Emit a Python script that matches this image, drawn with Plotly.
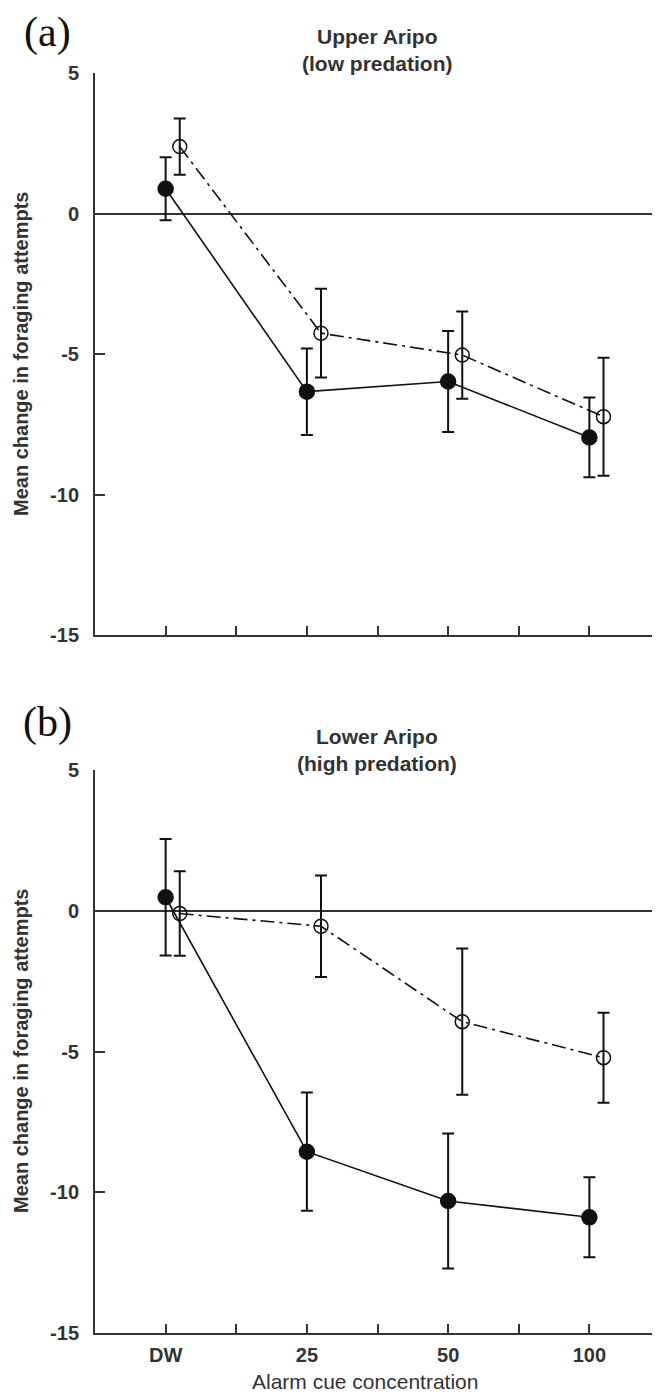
import plotly.graph_objects as go

categories = ["DW", "25", "50", "100"]

upper_filled = [0.88, -6.34, -5.98, -7.97]
upper_filled_err = [1.12, 1.54, 1.8, 1.42]
upper_open = [2.38, -4.26, -5.04, -7.23]
upper_open_err = [1.0, 1.58, 1.55, 2.1]

lower_filled = [0.48, -8.56, -10.31, -10.89]
lower_filled_err = [2.07, 2.1, 2.4, 1.42]
lower_open = [-0.1, -0.55, -3.94, -5.22]
lower_open_err = [1.5, 1.8, 2.6, 1.6]

y_ticks = [5, 0, -5, -10, -15]
y_ticktext = ["5", "0", "-5", "-10", "-15"]

AX = "#333333"
INK = "#111111"
OPEN_OFFSET = 0.1

xpos = list(range(len(categories)))
xpos_open = [v + OPEN_OFFSET for v in xpos]

fig = go.Figure()


def add_series(y, err, xa, ya, filled):
    fig.add_trace(go.Scatter(
        x=xpos if filled else xpos_open,
        y=y,
        xaxis=xa, yaxis=ya,
        mode="lines+markers",
        line=dict(color=INK, width=1.6,
                  dash="solid" if filled else "14px,5px,3px,5px"),
        marker=dict(symbol="circle" if filled else "circle-open",
                    size=15 if filled else 14,
                    color=INK,
                    line=dict(color=INK, width=1.5)),
        error_y=dict(type="data", array=err, visible=True,
                     color=INK, thickness=2, width=6),
        showlegend=False,
    ))


add_series(upper_filled, upper_filled_err, "x", "y", True)
add_series(upper_open, upper_open_err, "x", "y", False)
add_series(lower_filled, lower_filled_err, "x2", "y2", True)
add_series(lower_open, lower_open_err, "x2", "y2", False)

tickfont = dict(family="Liberation Sans, Arial, sans-serif", size=20,
                color=AX, weight="bold")

xcommon = dict(
    range=[-0.5, 3.5], domain=[0, 1],
    showline=True, linecolor=AX, linewidth=2,
    showgrid=False, zeroline=False,
    tickmode="array", tickvals=xpos, ticktext=categories,
    ticks="inside", ticklen=9, tickwidth=2, tickcolor=AX,
    minor=dict(tickmode="array", tickvals=[0.5, 1.5, 2.5, 3.5],
               ticks="inside", ticklen=9, tickwidth=2, tickcolor=AX),
    tickfont=tickfont, ticklabelstandoff=3,
)
ycommon = dict(
    range=[-15, 5],
    showline=True, linecolor=AX, linewidth=2,
    showgrid=False,
    zeroline=True, zerolinecolor=AX, zerolinewidth=2,
    tickmode="array", tickvals=y_ticks, ticktext=y_ticktext,
    ticks="inside", ticklen=10, tickwidth=2, tickcolor=AX,
    tickfont=tickfont, ticklabelstandoff=10,
)

# page body has an 8px margin; the figure is sized/placed to compensate
OFF = 8
W, H = 660 - OFF, 1393 - OFF
PLOT_L, PLOT_T, PLOT_B = 95, 73, 1333
T = PLOT_T - OFF
B = 1393 - PLOT_B
L = PLOT_L - OFF
PW = 660 - PLOT_L
PH = PLOT_B - PLOT_T
top_dom = [1 - (635 - PLOT_T) / PH, 1]
bot_dom = [0, 1 - (770 - PLOT_T) / PH]

fig.update_layout(
    width=W, height=H,
    margin=dict(l=L, r=0, t=T, b=B),
    paper_bgcolor="white", plot_bgcolor="white",
    xaxis=dict(**xcommon, anchor="y", showticklabels=False),
    yaxis=dict(**ycommon, domain=top_dom, anchor="x"),
    xaxis2=dict(**xcommon, anchor="y2", showticklabels=True),
    yaxis2=dict(**ycommon, domain=bot_dom, anchor="x2"),
)


def px_x(p):
    return (p - PLOT_L) / PW


def px_y(p):
    return (PLOT_B - p) / PH


title_font = dict(family="Liberation Sans, Arial, sans-serif", size=21,
                  color=AX, weight="bold")
ytitle_font = dict(family="Liberation Sans, Arial, sans-serif", size=20,
                   color=AX, weight="bold")
label_font = dict(family="Liberation Serif, Times New Roman, serif",
                  size=42, color=INK)

annots = [
    dict(text="(a)", x=px_x(47), y=px_y(33), font=label_font),
    dict(text="(b)", x=px_x(47), y=px_y(723), font=label_font),
    dict(text="Upper Aripo<br>(low predation)", x=px_x(377), y=px_y(50),
         font=title_font),
    dict(text="Lower Aripo<br>(high predation)", x=px_x(377), y=px_y(750),
         font=title_font),
    dict(text="Mean change in foraging attempts", x=px_x(21),
         y=px_y(354), textangle=-90, font=ytitle_font),
    dict(text="Mean change in foraging attempts", x=px_x(21),
         y=px_y(1051), textangle=-90, font=ytitle_font),
    dict(text="Alarm cue concentration", x=px_x(365), y=px_y(1381),
         font=dict(family="Liberation Sans, Arial, sans-serif", size=21,
                   color=AX)),
]
for a in annots:
    fig.add_annotation(xref="paper", yref="paper", showarrow=False,
                       xanchor="center", yanchor="middle", **a)

fig.write_html("out.html")
